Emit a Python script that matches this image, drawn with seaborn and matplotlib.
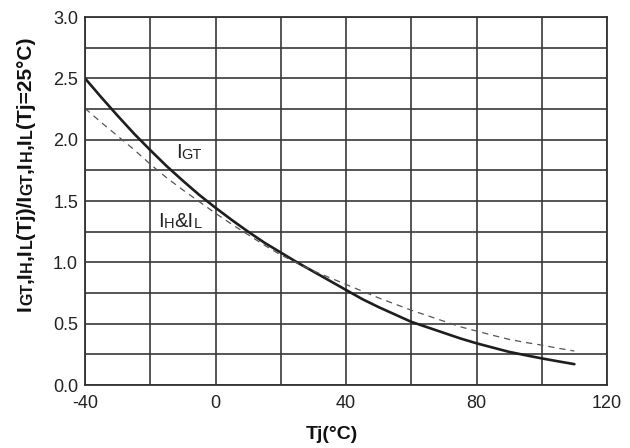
import matplotlib
matplotlib.use("Agg")
import matplotlib.pyplot as plt
import seaborn as sns
import pandas as pd
from matplotlib.ticker import MultipleLocator

# Data
tj = [-40, -35, -30, -25, -20, -15, -10, -5, 0, 5, 10, 15, 20, 25, 30, 35, 40,
      45, 50, 55, 60, 65, 70, 75, 80, 85, 90, 95, 100, 105, 110]
igt = [2.50, 2.345, 2.195, 2.05, 1.915, 1.785, 1.665, 1.55, 1.445, 1.345, 1.25,
       1.16, 1.08, 1.00, 0.925, 0.85, 0.775, 0.70, 0.635, 0.575, 0.515, 0.47,
       0.425, 0.38, 0.34, 0.305, 0.27, 0.243, 0.217, 0.193, 0.17]
ih_il = [2.255, 2.14, 2.03, 1.92, 1.80, 1.69, 1.59, 1.495, 1.40, 1.31, 1.225,
         1.14, 1.06, 0.995, 0.93, 0.875, 0.82, 0.765, 0.71, 0.66, 0.61, 0.565,
         0.52, 0.475, 0.44, 0.405, 0.372, 0.347, 0.325, 0.30, 0.277]
x_ticks = [-40, 0, 40, 80, 120]
y_ticks = [0.0, 0.5, 1.0, 1.5, 2.0, 2.5, 3.0]
x_label = "Tj(°C)"
# (text, is_small) pieces of the y-axis label
y_label_parts = [("I", False), ("GT", True), (",I", False), ("H", True), (",I", False),
                 ("L", True), ("(Tj)/I", False), ("GT", True), (",I", False), ("H", True),
                 (",I", False), ("L", True), ("(Tj=25°C)", False)]
igt_label_parts = [("I", False), ("GT", True)]
ihil_label_parts = [("I", False), ("H", True), ("&I", False), ("L", True)]

sns.set_style("white")
plt.rcParams['font.family'] = ['Liberation Sans', 'DejaVu Sans']

df = pd.DataFrame({"Tj": tj, "IGT": igt, "IHIL": ih_il})

fig = plt.figure(figsize=(6.3, 4.48), dpi=100)
ax = fig.add_axes([85/630, 63/448, 522/630, 368/448])

sns.lineplot(data=df, x="Tj", y="IGT", ax=ax, color="#1e1e1e", linewidth=1.9)
sns.lineplot(data=df, x="Tj", y="IHIL", ax=ax, color="#555555", linewidth=0.9,
             linestyle=(0, (5, 4)))

ax.set_xlim(-40, 120)
ax.set_ylim(0, 3.0)
ax.set_xticks(x_ticks)
ax.set_yticks(y_ticks)
ax.set_xticklabels([str(v) for v in x_ticks])
ax.set_yticklabels([f"{v:.1f}" for v in y_ticks])
ax.xaxis.set_minor_locator(MultipleLocator(20))
ax.yaxis.set_minor_locator(MultipleLocator(0.25))
ax.grid(which="both", color="#383838", linewidth=1.2)
ax.set_axisbelow(True)
ax.tick_params(which="both", length=0, labelsize=13, colors="#222222")
ax.tick_params(axis="y", pad=5)
ax.tick_params(axis="x", pad=7)
for s in ax.spines.values():
    s.set_color("#333333")
    s.set_linewidth(1.3)

ax.set_xlabel(x_label, fontsize=14, fontweight="bold", color="#111111")
ax.xaxis.set_label_coords(0.473, -0.112)
ax.set_ylabel("")


def chain_text(parts, first_xy, big, small, weight, rotation=0):
    t = None
    for s, is_small in parts:
        size = small if is_small else big
        if t is None:
            if rotation:
                t = fig.text(first_xy[0], first_xy[1], s, fontsize=size, fontweight=weight,
                             rotation=90, ha="right", va="bottom", color="#111111")
            else:
                t = ax.text(first_xy[0], first_xy[1], s, fontsize=size, fontweight=weight,
                            ha="left", va="bottom", color="#222222")
        else:
            if rotation:
                t = ax.annotate(s, xy=(1, 1), xycoords=t, fontsize=size, fontweight=weight,
                                rotation=90, ha="right", va="bottom", color="#111111",
                                annotation_clip=False)
            else:
                t = ax.annotate(s, xy=(1, 0), xycoords=t, fontsize=size, fontweight=weight,
                                ha="left", va="bottom", color="#222222",
                                annotation_clip=False)
    return t


chain_text(y_label_parts, (35/630, 1 - 311/448), 15, 11.5, "bold", rotation=90)
chain_text(igt_label_parts, (-12.2, 1.815), 14.5, 10.5, "normal")
chain_text(ihil_label_parts, (-17.5, 1.258), 14.5, 10.5, "normal")

fig.savefig("out.png", dpi=100)
